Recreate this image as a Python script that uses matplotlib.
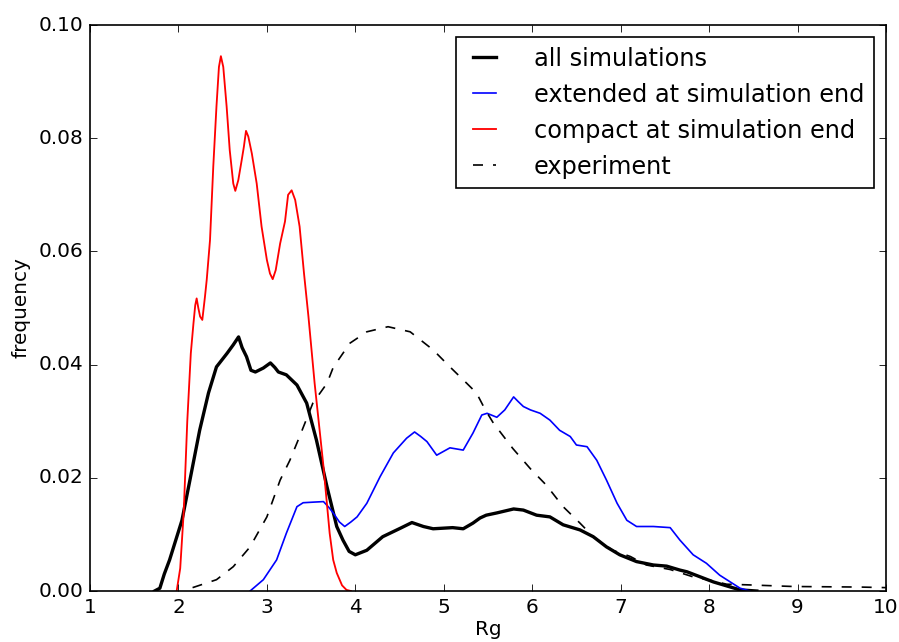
import numpy as np
import matplotlib
matplotlib.use("Agg")
import matplotlib.pyplot as plt

plt.style.use("classic")

# Rg histogram curves
all_x = [1.73, 1.79, 1.84, 1.90, 2.04, 2.13, 2.24, 2.34, 2.43, 2.55, 2.62, 2.68, 2.72,
         2.77, 2.82, 2.87, 2.96, 3.04, 3.09, 3.13, 3.22, 3.34, 3.45, 3.56, 3.68, 3.79,
         3.86, 3.93, 4.00, 4.13, 4.31, 4.51, 4.64, 4.77, 4.88, 5.10, 5.22, 5.33, 5.41,
         5.48, 5.60, 5.79, 5.90, 6.05, 6.20, 6.35, 6.54, 6.69, 6.84, 6.99, 7.18, 7.37,
         7.52, 7.67, 7.75, 7.90, 8.05, 8.20, 8.35, 8.54]
all_y = [0.0, 0.0005, 0.003, 0.0055, 0.0125, 0.0196, 0.0284, 0.035, 0.0396, 0.042,
         0.0435, 0.0449, 0.043, 0.0414, 0.039, 0.0387, 0.0394, 0.0403, 0.0395, 0.0387,
         0.0382, 0.0364, 0.0332, 0.0267, 0.0184, 0.0114, 0.009, 0.007, 0.0064, 0.0072,
         0.0096, 0.0111, 0.0121, 0.0114, 0.011, 0.0112, 0.011, 0.012, 0.0129, 0.0134,
         0.0138, 0.0145, 0.0143, 0.0134, 0.0131, 0.0117, 0.0108, 0.0096, 0.0078, 0.0064,
         0.0052, 0.0046, 0.0044, 0.0037, 0.0034, 0.0025, 0.0016, 0.0009, 0.0002, 0.0]

ext_x = [2.81, 2.96, 3.11, 3.22, 3.34, 3.41, 3.52, 3.64, 3.70, 3.75, 3.82, 3.88, 3.95,
         4.02, 4.13, 4.28, 4.43, 4.58, 4.67, 4.74, 4.81, 4.92, 5.07, 5.22, 5.33, 5.43,
         5.49, 5.60, 5.69, 5.79, 5.84, 5.90, 5.98, 6.09, 6.20, 6.31, 6.43, 6.50, 6.62,
         6.73, 6.84, 6.96, 7.07, 7.18, 7.37, 7.56, 7.67, 7.82, 7.97, 8.12, 8.24, 8.35, 8.46]
ext_y = [0.0, 0.002, 0.0055, 0.0102, 0.0149, 0.0156, 0.0157, 0.0158, 0.0148, 0.0138,
         0.0122, 0.0114, 0.0122, 0.0131, 0.0155, 0.0202, 0.0244, 0.027, 0.0281, 0.0273,
         0.0264, 0.024, 0.0253, 0.0249, 0.0279, 0.0311, 0.0314, 0.0307, 0.032, 0.0343,
         0.0335, 0.0326, 0.032, 0.0314, 0.0302, 0.0284, 0.0273, 0.0258, 0.0255, 0.0231,
         0.0196, 0.0155, 0.0125, 0.0114, 0.0114, 0.0112, 0.009, 0.0064, 0.0049, 0.0028,
         0.0016, 0.0005, 0.0]

cmp_x = [1.98, 2.02, 2.06, 2.10, 2.14, 2.17, 2.19, 2.206, 2.225, 2.245, 2.27, 2.30, 2.32,
         2.357, 2.394, 2.43, 2.458, 2.48, 2.507, 2.545, 2.58, 2.62, 2.643, 2.677, 2.715,
         2.74, 2.764, 2.79, 2.83, 2.885, 2.94, 3.00, 3.035, 3.066, 3.10, 3.15, 3.205,
         3.24, 3.28, 3.32, 3.37, 3.42, 3.47, 3.54, 3.64, 3.71, 3.75, 3.79, 3.85, 3.90, 3.95]
cmp_y = [0.0, 0.004, 0.014, 0.030, 0.042, 0.0473, 0.0505, 0.0517, 0.050, 0.0485, 0.0479,
         0.052, 0.055, 0.062, 0.075, 0.0856, 0.0926, 0.0945, 0.0926, 0.0856, 0.0779,
         0.072, 0.0707, 0.0726, 0.0761, 0.0785, 0.0813, 0.0803, 0.0773, 0.072, 0.0644,
         0.0585, 0.0561, 0.0551, 0.0567, 0.0614, 0.0653, 0.070, 0.0708, 0.0691, 0.0644,
         0.0561, 0.0485, 0.0367, 0.022, 0.0102, 0.0055, 0.0032, 0.001, 0.0002, 0.0]

exp_x = [2.16, 2.43, 2.62, 2.81, 3.00, 3.15, 3.26, 3.37, 3.52, 3.68, 3.75, 3.86, 3.94,
         4.13, 4.37, 4.62, 4.88, 5.07, 5.26, 5.37, 5.47, 5.56, 5.78, 5.98, 6.16, 6.35,
         6.54, 6.69, 6.91, 7.11, 7.29, 7.56, 7.82, 8.01, 8.20, 8.42, 8.95, 9.71, 10.0]
exp_y = [0.0006, 0.002, 0.0043, 0.0078, 0.0131, 0.0196, 0.0231, 0.0273, 0.0332, 0.0367,
         0.0395, 0.042, 0.0438, 0.0458, 0.0467, 0.0458, 0.0426, 0.0396, 0.0367, 0.035,
         0.032, 0.0297, 0.0252, 0.0216, 0.0187, 0.0149, 0.012, 0.0096, 0.0072, 0.0061,
         0.0046, 0.0038, 0.0025, 0.0019, 0.0012, 0.0011, 0.0008, 0.0007, 0.0006]

fig = plt.figure(figsize=(899 / 120, 642 / 120), dpi=120, facecolor="white")
ax = fig.add_axes([0.1001, 0.0794, 0.8854, 0.8816])

ax.plot(all_x, all_y, color="k", lw=2, label="all simulations")
ax.plot(ext_x, ext_y, color="b", lw=1, label="extended at simulation end")
ax.plot(cmp_x, cmp_y, color="r", lw=1.1, label="compact at simulation end")
ax.plot(exp_x, exp_y, color="k", lw=1, ls="--", label="experiment")

ax.set_xlim(1, 10)
ax.set_ylim(0, 0.10)
ax.set_xticks(np.arange(1, 11))
ax.set_yticks(np.arange(0, 0.101, 0.02))
ax.set_yticklabels([f"{v:.2f}" for v in np.arange(0, 0.101, 0.02)])
ax.set_xlabel("Rg", labelpad=2)
ax.set_ylabel("frequency")

ax.legend(loc="upper right", handlelength=1.55, handletextpad=1.3)

fig.savefig("out.png", dpi=120, facecolor="white")
